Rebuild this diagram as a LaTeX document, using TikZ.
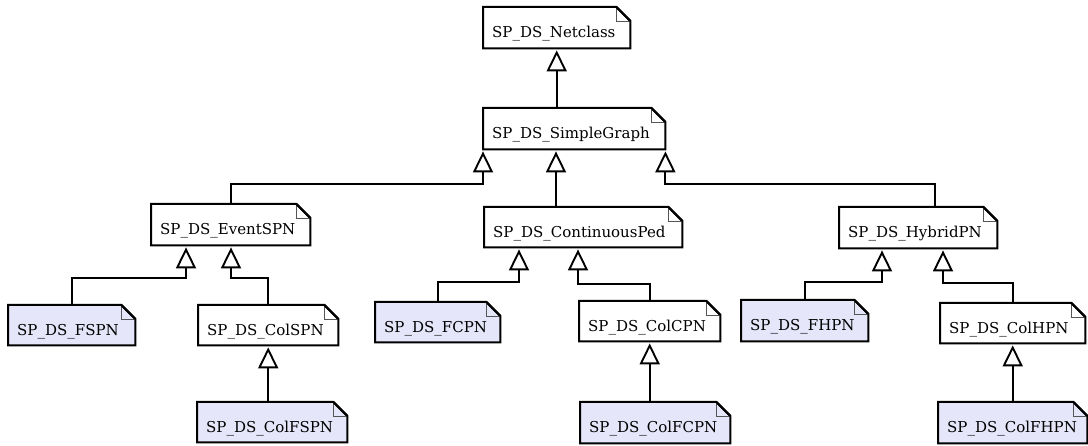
\documentclass[tikz,border=0pt]{standalone}
\usepackage{fontspec}
\setmainfont{DejaVu Serif}
\usetikzlibrary{arrows.meta,backgrounds,calc}
\definecolor{notefill}{HTML}{E6E6FA}
\definecolor{foldgray}{HTML}{555555}
\tikzset{
  classbox/.style={rectangle, draw=none, inner sep=0pt, anchor=north west,
    font=\fontsize{15}{17}\selectfont, align=left,
    text height=24pt, text depth=4pt},
  outline/.style={draw=black, line width=2pt, line join=miter},
  gen/.style={line width=2pt, shorten >=2pt,
    -{Triangle[open, length=21pt, width=20pt, line width=1.9pt]}},
}
% a note-shaped class box: name, fill colour
\newcommand{\notebox}[2]{%
  \path[outline, fill=#2]
    ($(#1.north east)+(-14pt,0)$) -- ($(#1.north east)+(0,-14pt)$)
    -- (#1.south east) -- (#1.south west) -- (#1.north west) -- cycle;
  \draw[foldgray, line width=0.8pt]
    ($(#1.north east)+(-14pt,0)$) |- ($(#1.north east)+(0,-14pt)$);
  \path[outline]
    ($(#1.north east)+(-14pt,0)$) -- ($(#1.north east)+(0,-14pt)$);
}
\newcommand{\cls}[6]{% name, x0, y0, x1, y1, text
  \node[classbox, minimum width=#4pt-#2pt, minimum height=#5pt-#3pt,
        text width=#4pt-#2pt-18pt] (#1) at (#2,#3) {#6};
}
\begin{document}
\begin{tikzpicture}[x=1pt, y=-1pt]
  \useasboundingbox (0,0) rectangle (1088,446);

  % classes
  \cls{netclass}{483}{7}{630}{48}{SP\_DS\_Netclass}
  \cls{simple}{483}{108}{665}{149}{SP\_DS\_SimpleGraph}
  \cls{event}{151}{204}{310}{245}{SP\_DS\_EventSPN}
  \cls{contin}{484}{207}{682}{247}{SP\_DS\_ContinuousPed}
  \cls{hybrid}{839}{207}{997}{248}{SP\_DS\_HybridPN}
  \cls{fspn}{8}{305}{135}{345}{SP\_DS\_FSPN}
  \cls{colspn}{198}{305}{338}{345}{SP\_DS\_ColSPN}
  \cls{fcpn}{375}{302}{500}{342}{SP\_DS\_FCPN}
  \cls{colcpn}{579}{301}{720}{341}{SP\_DS\_ColCPN}
  \cls{fhpn}{741}{300}{868}{341}{SP\_DS\_FHPN}
  \cls{colhpn}{940}{303}{1085}{343}{SP\_DS\_ColHPN}
  \cls{colfspn}{197}{402}{347}{442}{SP\_DS\_ColFSPN}
  \cls{colfcpn}{580}{402}{730}{443}{SP\_DS\_ColFCPN}
  \cls{colfhpn}{938}{402}{1087}{443}{SP\_DS\_ColFHPN}

  \begin{scope}[on background layer]
    \foreach \n in {netclass,simple,event,contin,hybrid,colspn,colcpn,colhpn}
      {\notebox{\n}{white}}
    \foreach \n in {fspn,fcpn,fhpn,colfspn,colfcpn,colfhpn}
      {\notebox{\n}{notefill}}
  \end{scope}

  % generalisation connectors
  \draw[gen] (simple.north -| netclass.south) -- (netclass.south);

  \draw[gen] (event.north) |- ([yshift=-35pt]simple.south west) -- (simple.south west);
  \draw[gen] (contin.north -| {$(simple.south west)+(73pt,0)$}) -- ([xshift=73pt]simple.south west);
  \draw[gen] ([xshift=17pt]hybrid.north) |- ([yshift=-35pt]simple.south east) -- (simple.south east);

  \draw[gen] (fspn.north) |- ([xshift=35pt, yshift=-33pt]event.south west) -- ([xshift=35pt]event.south west);
  \draw[gen] (colspn.north) |- ([xshift=80pt, yshift=-33pt]event.south west) -- ([xshift=80pt]event.south west);
  \draw[gen] (colfspn.north -| colspn.south) -- (colspn.south);

  \draw[gen] (fcpn.north) |- ([xshift=35pt, yshift=-35pt]contin.south west) -- ([xshift=35pt]contin.south west);
  \draw[gen] (colcpn.north) |- ([xshift=94pt, yshift=-37pt]contin.south west) -- ([xshift=94pt]contin.south west);
  \draw[gen] (colfcpn.north -| colcpn.south) -- (colcpn.south);

  \draw[gen] (fhpn.north) |- ([xshift=43pt, yshift=-34pt]hybrid.south west) -- ([xshift=43pt]hybrid.south west);
  \draw[gen] (colhpn.north) |- ([xshift=104pt, yshift=-35pt]hybrid.south west) -- ([xshift=104pt]hybrid.south west);
  \draw[gen] (colfhpn.north -| colhpn.south) -- (colhpn.south);
\end{tikzpicture}
\end{document}
